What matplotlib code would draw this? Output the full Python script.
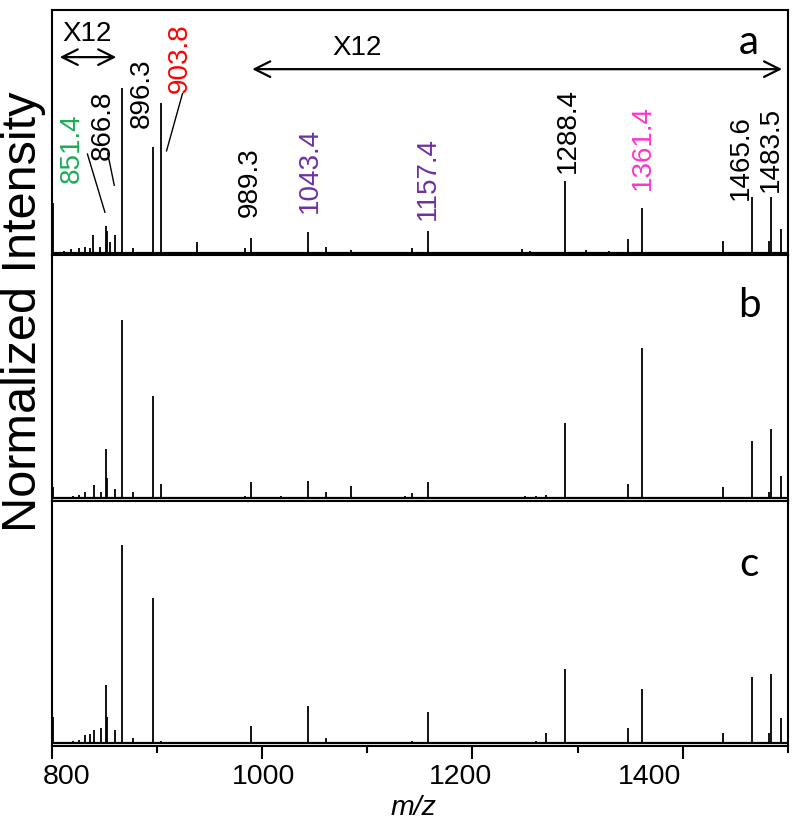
import matplotlib
matplotlib.use("Agg")
import matplotlib.pyplot as plt
import matplotlib.transforms as mtransforms

plt.rcParams['font.family'] = ['Liberation Sans', 'DejaVu Sans']

# ---------------- data ----------------
# peak positions (m/z) and normalized heights for each spectrum
mz_a = [801, 812, 818, 826, 832, 836, 839, 846, 851.4, 853, 855, 860, 866.8, 877, 896.3, 903.8,
        938, 983.6, 989.3, 1043.4, 1061, 1085, 1116, 1143, 1157.4, 1247, 1255, 1288.4, 1308,
        1330, 1348, 1361.4, 1420, 1438, 1465.6, 1481.6, 1483.5, 1493]
int_a = [0.21, 0.015, 0.02, 0.025, 0.03, 0.025, 0.08, 0.03, 0.115, 0.095, 0.05, 0.078, 0.68, 0.025, 0.44, 0.62,
         0.05, 0.025, 0.065, 0.09, 0.028, 0.016, 0.01, 0.025, 0.095, 0.02, 0.012, 0.30, 0.016,
         0.012, 0.062, 0.19, 0.01, 0.053, 0.235, 0.055, 0.235, 0.105]

mz_b = [801, 812, 820, 826, 832, 840, 847, 851.4, 853, 860, 866.8, 877, 896.3, 903.8,
        983.6, 989.3, 1018, 1043.4, 1061, 1070, 1085, 1136, 1143, 1157.4, 1250, 1260, 1270,
        1288.4, 1308, 1330, 1348, 1361.4, 1438, 1465.6, 1481.6, 1483.5, 1493]
int_b = [0.05, 0.01, 0.015, 0.02, 0.03, 0.06, 0.03, 0.205, 0.09, 0.045, 0.735, 0.03, 0.425, 0.065,
         0.015, 0.07, 0.015, 0.075, 0.033, 0.01, 0.057, 0.015, 0.025, 0.07, 0.016, 0.016, 0.02,
         0.315, 0.012, 0.01, 0.065, 0.62, 0.05, 0.24, 0.033, 0.29, 0.095]

mz_c = [801, 812, 820, 826, 832, 836, 840, 847, 851.4, 853, 860, 866.8, 877, 896.3, 903.8,
        989.3, 1043.4, 1061, 1085, 1136, 1143, 1157.4, 1250, 1260, 1270, 1288.4, 1308,
        1348, 1361.4, 1438, 1465.6, 1481.6, 1483.5, 1493]
int_c = [0.115, 0.01, 0.015, 0.02, 0.04, 0.045, 0.06, 0.07, 0.245, 0.115, 0.06, 0.82, 0.03, 0.60, 0.018,
         0.078, 0.16, 0.03, 0.012, 0.01, 0.015, 0.135, 0.012, 0.015, 0.05, 0.31, 0.012,
         0.07, 0.23, 0.05, 0.28, 0.05, 0.29, 0.11]

# annotation labels in panel a: text, color
ann_text = ['851.4', '866.8', '896.3', '903.8', '989.3', '1043.4', '1157.4',
            '1288.4', '1361.4', '1465.6', '1483.5']
ann_color = ['#1aae58', 'black', 'black', '#ff0000', 'black', '#7030a0', '#7030a0',
             'black', '#ff33cc', 'black', 'black']

x_ticks = [800, 1000, 1200, 1400]
x_tick_labels = ['800', '1000', '1200', '1400']
x_minor = [900, 1100, 1300, 1500]
panel_letters = ['a', 'b', 'c']

# ---------------- layout ----------------
# label anchor (x in m/z, y in axes fraction of panel a)
ann_pos = [(819, 0.298), (848.7, 0.391), (885.5, 0.522), (921.9, 0.664), (988.4, 0.159),
           (1045.4, 0.175), (1157.5, 0.147), (1290.5, 0.338), (1361.7, 0.269),
           (1455.4, 0.228), (1484, 0.261)]
leaders = [((834, 0.412), (850.6, 0.175)),
           ((853.2, 0.416), (859.5, 0.285)),
           ((924.4, 0.659), (909.2, 0.425))]
letter_y = [0.872, 0.797, 0.743]
tick_label_dx = [15, 2, -12, -33]   # pixel shifts of the tick labels

fig = plt.figure(figsize=(8.0, 8.29), dpi=100)
fig.subplots_adjust(left=0.0646, right=0.985, top=0.987, bottom=0.099, hspace=0)
axes = fig.subplots(3, 1, sharex=True)

spectra = [(mz_a, int_a), (mz_b, int_b), (mz_c, int_c)]
for ax, (mz, inten), letter, ly in zip(axes, spectra, panel_letters, letter_y):
    ax.vlines(mz, 0.006, inten, color='black', lw=1.3)
    ax.axhline(0.006, color='black', lw=1.6)
    ax.set_xlim(800, 1500)
    ax.set_ylim(-0.004, 1.0)
    ax.set_yticks([])
    for s in ax.spines.values():
        s.set_linewidth(1.5)
    ax.text(0.947, ly, letter, transform=ax.transAxes,
            fontsize=29, family=['Lato', 'DejaVu Sans'], ha='center', va='center')
    ax.tick_params(axis='x', which='major', direction='out', length=9, width=1.5)
    ax.tick_params(axis='x', which='minor', direction='out', length=5, width=1.5)

axc = axes[2]
axc.set_xticks(x_ticks)
axc.set_xticks(x_minor, minor=True)
axc.set_xticklabels([])
for ax in axes[:2]:
    ax.tick_params(axis='x', which='both', length=0)

# tick labels drawn as text so they can be nudged like the original
xtrans = mtransforms.blended_transform_factory(axc.transData, axc.transAxes)
for xv, lab, dx in zip(x_ticks, x_tick_labels, tick_label_dx):
    off = mtransforms.ScaledTranslation(dx / 100.0, 0, fig.dpi_scale_trans)
    axc.text(xv, -0.07, lab, transform=xtrans + off, fontsize=20.5,
             ha='center', va='top', clip_on=False)

fig.text(0.517, 0.0255, 'm/z', fontsize=20.5, style='italic', ha='center', va='center')

fig.text(0.029, 0.624, 'Normalized Intensity', rotation=90, fontsize=35,
         ha='center', va='center')

# annotations in panel a
axa = axes[0]
trans = mtransforms.blended_transform_factory(axa.transData, axa.transAxes)
for txt, col, (xp, yp) in zip(ann_text, ann_color, ann_pos):
    axa.text(xp, yp, txt, rotation=90, color=col, fontsize=20, ha='center', va='bottom',
             transform=trans)
for (p0, p1) in leaders:
    axa.plot([p0[0], p1[0]], [p0[1], p1[1]], color='black', lw=1.0, transform=trans)

# X12 arrows
axa.annotate('', xy=(805, 0.807), xytext=(864, 0.807), xycoords=trans, textcoords=trans,
             arrowprops=dict(arrowstyle='<->', lw=1.6, mutation_scale=28, color='black'))
axa.annotate('', xy=(988, 0.758), xytext=(1497, 0.758), xycoords=trans, textcoords=trans,
             arrowprops=dict(arrowstyle='<->', lw=1.6, mutation_scale=28, color='black'))
axa.text(833.5, 0.905, 'X12', transform=trans, fontsize=20, ha='center', va='center')
axa.text(1090, 0.848, 'X12', transform=trans, fontsize=20, ha='center', va='center')

fig.savefig('out.png', dpi=100)
